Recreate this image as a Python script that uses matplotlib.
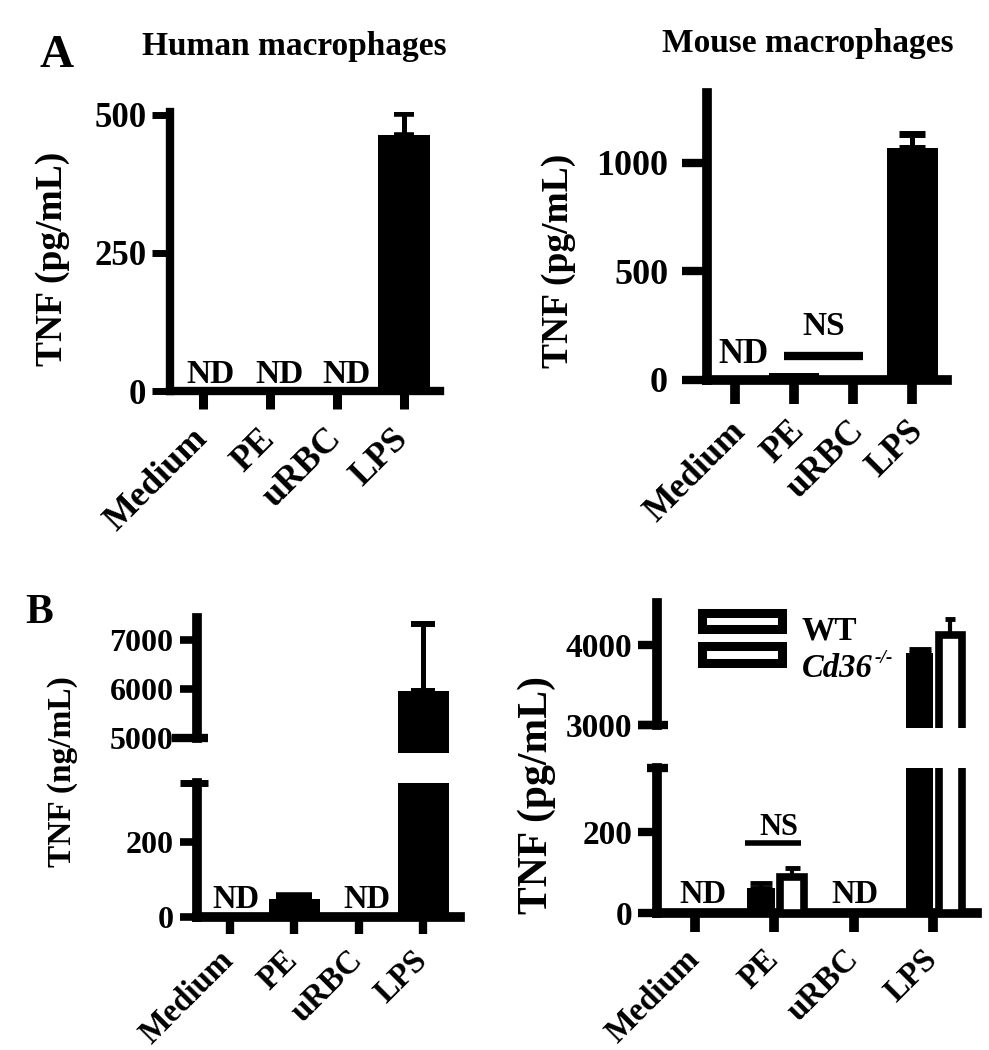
import matplotlib
matplotlib.use('Agg')
import matplotlib.pyplot as plt
import matplotlib.transforms as mtransforms
from matplotlib.patches import Rectangle

W, H = 989, 1050
plt.rcParams['font.family'] = ['Liberation Serif', 'DejaVu Serif']
plt.rcParams['font.weight'] = 'bold'

# ---------------- data ----------------
categories = ['Medium', 'PE', 'uRBC', 'LPS']

# Panel A - human macrophages (pg/mL)
human_tnf = [0, 0, 0, 463]
human_err = [0, 0, 0, 38]
human_nd = [True, True, True, False]

# Panel A - mouse macrophages (pg/mL)
mouse_tnf = [0, 30, 8, 1070]
mouse_err = [0, 0, 0, 62]
mouse_nd = [True, False, False, False]

# Panel B - left
bl_tnf = [0, 48, 0, 5950]
bl_err = [0, 10, 0, 1380]
bl_nd = [True, False, True, False]

# Panel B - right (WT vs Cd36-/-)
wt_tnf = [0, 62, 0, 3900]
wt_err = [0, 12, 0, 50]
ko_tnf = [0, 90, 0, 4120]
ko_err = [0, 22, 0, 210]
br_nd = [True, False, True, False]

fig = plt.figure(figsize=(W / 100, H / 100), dpi=100)


def px_axes(l, r, b, t):
    return fig.add_axes([l / W, 1 - b / H, (r - l) / W, (b - t) / H])


def style(ax, lw, ylen, ywid, ypad, yfs, xlen=12, xwid=6, xpad=7, xfs=22,
          show_x=True, xshift=-8):
    for s in ['top', 'right']:
        ax.spines[s].set_visible(False)
    ax.spines['left'].set_linewidth(lw)
    ax.spines['bottom'].set_linewidth(lw)
    ax.tick_params(axis='y', length=ylen, width=ywid, pad=ypad, labelsize=yfs)
    if show_x:
        ax.set_xticks(range(len(categories)), categories, rotation=45,
                      ha='right', rotation_mode='anchor')
        ax.tick_params(axis='x', length=xlen, width=xwid, pad=xpad,
                       labelsize=xfs)
        off = mtransforms.ScaledTranslation(xshift / 100, 0,
                                            fig.dpi_scale_trans)
        for lbl in ax.get_xticklabels():
            lbl.set_transform(lbl.get_transform() + off)
    else:
        ax.spines['bottom'].set_visible(False)
        ax.tick_params(axis='x', bottom=False, labelbottom=False)
    ax.patch.set_visible(False)


def nd_labels(ax, flags, dxs, y, fs):
    for i, f in enumerate(flags):
        if f:
            ax.text(i + dxs[i], y, 'ND', ha='center', va='baseline',
                    fontsize=fs, fontweight='bold')


def err(ax, x, vals, errs, capsize, capthick, elw):
    for xi, v, e in zip(x, vals, errs):
        if e > 0:
            ax.errorbar(xi, v, yerr=[[0], [e]], fmt='none', ecolor='black',
                        elinewidth=elw, capsize=capsize, capthick=capthick,
                        zorder=4)


def hline_axes(ax, x0, x1, y, lw):
    tr = mtransforms.blended_transform_factory(ax.transAxes, ax.transData)
    ax.plot([x0, x1], [y, y], color='black', lw=lw, transform=tr,
            clip_on=False, solid_capstyle='butt')


xs = list(range(len(categories)))

# ---------------- Panel A left ----------------
ax1 = px_axes(170, 440, 391, 112)
ax1.bar(xs, human_tnf, width=0.78, color='black', zorder=3)
err(ax1, xs, human_tnf, human_err, 7, 4, 3.6)
ax1.set_xlim(-0.49, 3.54)
ax1.set_ylim(0, 505)
ax1.set_yticks([0, 250, 500])
style(ax1, lw=6, ylen=13, ywid=5, ypad=4, yfs=25, xlen=13, xwid=6.5, xpad=9.5,
      xfs=26, xshift=-12)
nd_labels(ax1, human_nd, [0.12, 0.15, 0.15, 0], 14, 24)
fig.text(294 / W, 1 - 55 / H, 'Human macrophages', ha='center', va='baseline',
         fontsize=24, fontweight='bold')
fig.text(53 / W, 1 - 259 / H, 'TNF (pg/mL)', rotation=90, ha='center',
         va='center', fontsize=27, fontweight='bold')
fig.text(40 / W, 1 - 67 / H, 'A', ha='left', va='baseline', fontsize=34,
         fontweight='bold')

# ---------------- Panel A right ----------------
ax2 = px_axes(707, 947, 380, 93)
ax2.bar(xs, mouse_tnf, width=0.86, color='black', zorder=3)
err(ax2, xs, mouse_tnf, mouse_err, 9.6, 5, 3.6)
ax2.set_xlim(-0.475, 3.59)
ax2.set_ylim(0, 1322)
ax2.set_yticks([0, 500, 1000])
style(ax2, lw=7, ylen=18, ywid=6, ypad=10, yfs=26, xlen=17, xwid=7, xpad=8,
      xfs=25.5, xshift=-6)
nd_labels(ax2, mouse_nd, [0.14, 0, 0, 0], 78, 25)
ax2.plot([0.83, 2.17], [110, 110], color='black', lw=6, solid_capstyle='butt')
ax2.text(1.5, 207, 'NS', ha='center', va='baseline', fontsize=24,
         fontweight='bold')
fig.text(808 / W, 1 - 52 / H, 'Mouse macrophages', ha='center', va='baseline',
         fontsize=24, fontweight='bold')
fig.text(558 / W, 1 - 261 / H, 'TNF (pg/mL)', rotation=90, ha='center',
         va='center', fontsize=27, fontweight='bold')

# ---------------- Panel B left (broken axis) ----------------
ax3u = px_axes(197, 460, 753, 618)
ax3l = px_axes(197, 460, 917, 783)
for ax in (ax3u, ax3l):
    ax.bar(xs, bl_tnf, width=0.79, color='black', zorder=3)
    ax.set_xlim(-0.51, 3.57)
err(ax3u, [3], [bl_tnf[3]], [bl_err[3]], 8.6, 4.3, 3.6)
err(ax3l, [1], [bl_tnf[1]], [bl_err[1]], 13, 4, 3.6)
ax3u.set_ylim(4690, 7450)
ax3u.set_yticks([5000, 6000, 7000])
ax3u.spines['left'].set_bounds(5000, 7450)
style(ax3u, lw=7, ylen=12, ywid=5.5, ypad=5, yfs=23, show_x=False)
ax3l.set_ylim(0, 357)
ax3l.set_yticks([0, 200])
style(ax3l, lw=7, ylen=12, ywid=5.5, ypad=5, yfs=23, xlen=12, xwid=6, xpad=8,
      xfs=23.5, xshift=-12)
hline_axes(ax3u, -0.095, 0.042, 5000, 6)
hline_axes(ax3l, -0.065, 0.042, 357, 5)
nd_labels(ax3l, bl_nd, [0.09, 0, 0.12, 0], 24, 23.5)
fig.text(63 / W, 1 - 772 / H, 'TNF (ng/mL)', rotation=90, ha='center',
         va='center', fontsize=24, fontweight='bold')
fig.text(25 / W, 1 - 623 / H, 'B', ha='left', va='baseline', fontsize=30,
         fontweight='bold')

# ---------------- Panel B right (broken axis, WT vs Cd36-/-) ----------------
ax4u = px_axes(657, 977, 728, 603)
ax4l = px_axes(657, 977, 913, 768)
xw = [x - 0.17 for x in xs]
xk = [x + 0.22 for x in xs]
for ax in (ax4u, ax4l):
    ax.bar(xw, wt_tnf, width=0.35, color='black', zorder=3)
    ax.bar(xk, ko_tnf, width=0.30, color='white', edgecolor='black',
           linewidth=5.5, zorder=3)
    ax.set_xlim(-0.48, 3.555)
err(ax4u, [xw[3]], [wt_tnf[3]], [wt_err[3]], 8, 3.5, 3)
err(ax4u, [xk[3]], [ko_tnf[3]], [ko_err[3]], 3.5, 3.5, 3)
err(ax4l, [xw[1]], [wt_tnf[1]], [wt_err[1]], 8, 3.5, 3)
err(ax4l, [xk[1]], [ko_tnf[1]], [ko_err[1]], 5.4, 3.5, 3)
ax4u.set_ylim(2960, 4525)
ax4u.set_yticks([3000, 4000])
ax4u.spines['left'].set_bounds(3000, 4525)
style(ax4u, lw=7, ylen=14, ywid=6, ypad=4, yfs=24, show_x=False)
ax4l.set_ylim(0, 358)
ax4l.set_yticks([0, 200])
style(ax4l, lw=7, ylen=14, ywid=6, ypad=4, yfs=24, xlen=14, xwid=7, xpad=8,
      xfs=23.5, xshift=-11)
hline_axes(ax4u, -0.059, 0.034, 3000, 6)
hline_axes(ax4l, -0.031, 0.034, 358, 6)
nd_labels(ax4l, br_nd, [0.1, 0, 0.01, 0], 25, 23.5)
ax4l.plot([0.63, 1.34], [173, 173], color='black', lw=4, solid_capstyle='butt')
ax4l.text(1.06, 193, 'NS', ha='center', va='baseline', fontsize=22,
          fontweight='bold')
fig.text(537 / W, 1 - 795 / H, 'TNF (pg/mL)', rotation=90, ha='center',
         va='center', fontsize=30, fontweight='bold')

# legend
for (y0, h) in [(612.5, 16), (645.5, 17)]:
    fig.patches.append(Rectangle((701.5 / W, 1 - (y0 + h) / H), 80 / W, h / H,
                                 transform=fig.transFigure, facecolor='white',
                                 edgecolor='black', linewidth=6.5))
fig.text(802 / W, 1 - 640 / H, 'WT', ha='left', va='baseline', fontsize=24,
         fontweight='bold')
t_cd = fig.text(802 / W, 1 - 677 / H, 'Cd36', ha='left', va='baseline',
                fontsize=23.5, fontstyle='italic', fontweight='bold')
plt.annotate('-/-', xy=(1.0, 1.0), xycoords=t_cd, xytext=(1, 2),
             textcoords='offset points', ha='left', va='top',
             fontsize=14, fontstyle='italic', fontweight='bold',
             annotation_clip=False)

fig.savefig('out.png', dpi=100)
